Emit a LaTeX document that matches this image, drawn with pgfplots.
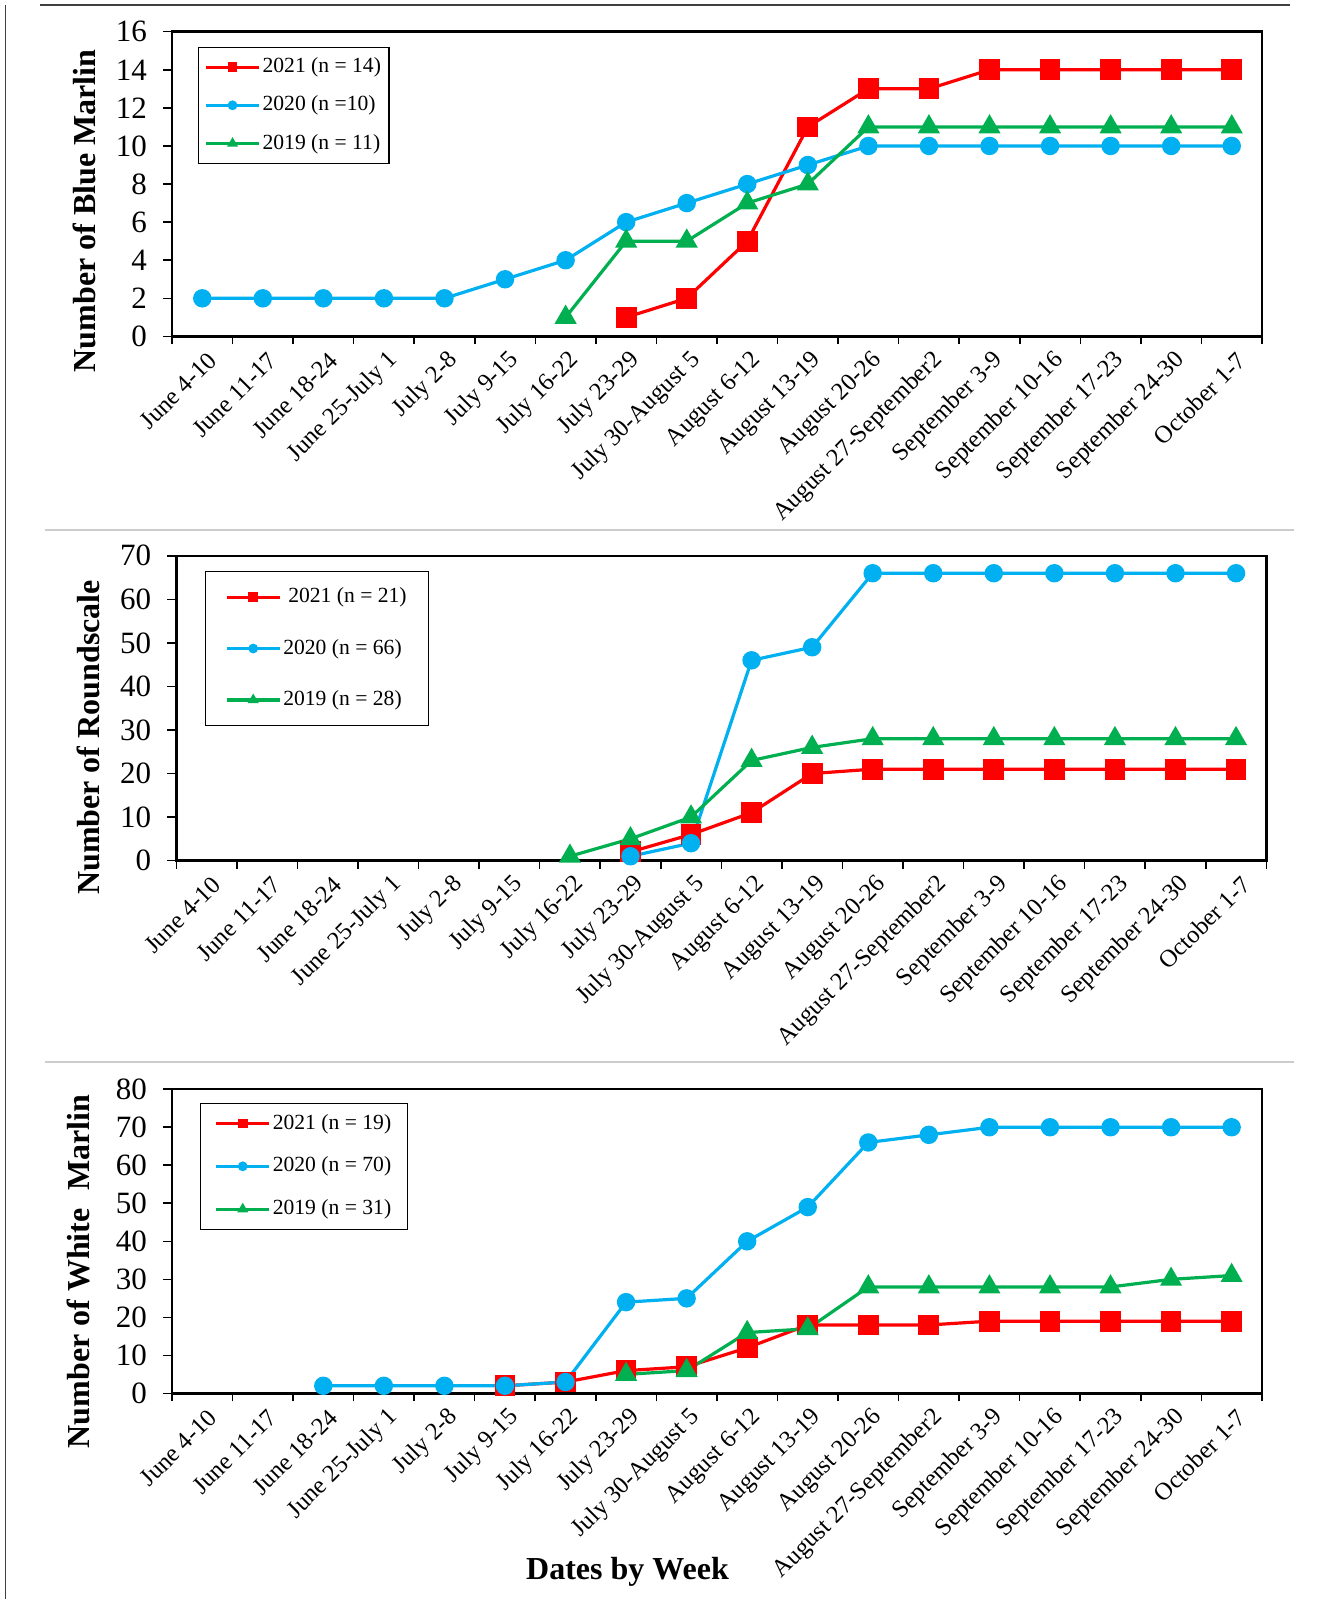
\documentclass[border=0pt]{standalone}
\usepackage{pgfplots}
\pgfplotsset{compat=1.18}
\usepackage{fontspec}
\setmainfont{Liberation Serif}
\definecolor{cred}{HTML}{FF0000}
\definecolor{cblue}{HTML}{00B0F0}
\definecolor{cgreen}{HTML}{00B050}

\pgfplotsset{
  mystyle/.style={
    scale only axis, width=545pt,
    xmin=-0.5, xmax=17.5, ymin=0,
    axis line style={line width=1.2pt, black},
    xtick={0,...,17},
    xticklabels={June 4-10, June 11-17, June 18-24, June 25-July 1, July 2-8, July 9-15, July 16-22, July 23-29, July 30-August 5, August 6-12, August 13-19, August 20-26, August 27-September2, September 3-9, September 10-16, September 17-23, September 24-30, October 1-7},
    minor xtick={-0.5,0.5,...,17.5},
    tick align=outside,
    xtick pos=bottom, ytick pos=left,
    major tick length=4.5pt, minor tick length=4pt,
    tick style={line width=0.8pt, black},
    major x tick style={draw=none},
    xticklabel style={rotate=45, anchor=east, xshift=3pt, yshift=-7.5pt, font=\fontsize{12.3}{15}\selectfont},
    yticklabel style={xshift=-4.5pt, font=\fontsize{15.5}{18}\selectfont},
    /pgf/number format/assume math mode=true,
    ylabel style={font=\fontsize{16}{19}\selectfont\bfseries, anchor=center},
    legend cell align=left,
    legend image code/.code={\draw[mark repeat=2, mark phase=2, #1, mark size=1.6pt] plot coordinates {(0pt,0pt) (13.25pt,0pt) (26.5pt,0pt)};},
    clip=false,
  },
  rser/.style={color=cred, line width=1.6pt, mark=square*, mark size=4.4pt, mark options={solid}},
  bser/.style={color=cblue, line width=1.6pt, mark=*, mark size=3.8pt, mark options={solid}},
  gser/.style={color=cgreen, line width=1.6pt, mark=triangle*, mark size=4.8pt, mark options={solid}},
}

\begin{document}
\begin{tikzpicture}
\useasboundingbox (0,0) rectangle (664pt,-799.5pt);
\draw[black!75, line width=0.6pt] (20pt,-2.5pt) -- (645pt,-2.5pt);
\draw[black!75, line width=0.6pt] (2.7pt,-2.5pt) -- (2.7pt,-799.5pt);
\draw[black!20, line width=0.6pt] (22.5pt,-265pt) -- (647pt,-265pt);
\draw[black!20, line width=0.6pt] (22.5pt,-531pt) -- (647pt,-531pt);

% Panel 1: Blue Marlin
\begin{axis}[mystyle, at={(86pt,-15.85pt)}, anchor=north west, height=152.35pt,
  ymax=16, ytick={0,2,...,16},
  ylabel={Number of Blue Marlin},
  ylabel style={at={(axis description cs:-0.0807,0.412)}},
  legend style={at={(axis description cs:0.0237,0.9514)}, anchor=north west, draw=black, line width=0.6pt,
    inner xsep=3pt, inner ysep=3.75pt, row sep=6.6pt, column sep=0pt,
    nodes={inner sep=1pt, text height=8pt, text depth=2.5pt, font=\fontsize{10.8}{13}\selectfont}},
]
\addplot[rser] coordinates {(7,1)(8,2)(9,5)(10,11)(11,13)(12,13)(13,14)(14,14)(15,14)(16,14)(17,14)};
\addlegendentry{2021 (n = 14)}
\addplot[bser] coordinates {(0,2)(1,2)(2,2)(3,2)(4,2)(5,3)(6,4)(7,6)(8,7)(9,8)(10,9)(11,10)(12,10)(13,10)(14,10)(15,10)(16,10)(17,10)};
\addlegendentry{2020 (n =10)}
\addplot[gser] coordinates {(6,1)(7,5)(8,5)(9,7)(10,8)(11,11)(12,11)(13,11)(14,11)(15,11)(16,11)(17,11)};
\addlegendentry{2019 (n = 11)}
\end{axis}

% Panel 2: Roundscale
\begin{axis}[mystyle, at={(88.15pt,-277.9pt)}, anchor=north west, height=152.4pt,
  ymax=70, ytick={0,10,...,70},
  ylabel={Number of Roundscale},
  ylabel style={at={(axis description cs:-0.081,0.404)}},
  legend style={at={(axis description cs:0.0259,0.9514)}, anchor=north west, draw=black, line width=0.6pt,
    inner xsep=10pt, inner ysep=6.7pt, row sep=13.2pt, column sep=0pt,
    nodes={inner sep=1pt, text height=8pt, text depth=2.5pt, font=\fontsize{10.8}{13}\selectfont}},
]
\addplot[rser] coordinates {(7,2)(8,6)(9,11)(10,20)(11,21)(12,21)(13,21)(14,21)(15,21)(16,21)(17,21)};
\addlegendentry{\hspace{2.5pt}2021 (n = 21)}
\addplot[bser] coordinates {(7,1)(8,4)(9,46)(10,49)(11,66)(12,66)(13,66)(14,66)(15,66)(16,66)(17,66)};
\addlegendentry{2020 (n = 66)}
\addplot[gser] coordinates {(6,1)(7,5)(8,10)(9,23)(10,26)(11,28)(12,28)(13,28)(14,28)(15,28)(16,28)(17,28)};
\addlegendentry{2019 (n = 28)}
\end{axis}

% Panel 3: White Marlin
\begin{axis}[mystyle, at={(85.95pt,-544.6pt)}, anchor=north west, height=152.1pt,
  ymax=80, ytick={0,10,...,80},
  ylabel={Number of White\hspace{0.3em} Marlin},
  ylabel style={at={(axis description cs:-0.0853,0.401)}},
  xlabel={Dates by Week},
  xlabel style={at={(axis description cs:0.418,-0.587)}, anchor=center, font=\fontsize{16}{19}\selectfont\bfseries},
  legend style={at={(axis description cs:0.0258,0.956)}, anchor=north west, draw=black, line width=0.6pt,
    inner xsep=7pt, inner ysep=3.9pt, row sep=8.9pt, column sep=0pt,
    nodes={inner sep=1pt, text height=8pt, text depth=2.5pt, font=\fontsize{10.8}{13}\selectfont}},
]
\addplot[rser] coordinates {(5,2)(6,3)(7,6)(8,7)(9,12)(10,18)(11,18)(12,18)(13,19)(14,19)(15,19)(16,19)(17,19)};
\addlegendentry{2021 (n = 19)}
\addplot[bser] coordinates {(2,2)(3,2)(4,2)(5,2)(6,3)(7,24)(8,25)(9,40)(10,49)(11,66)(12,68)(13,70)(14,70)(15,70)(16,70)(17,70)};
\addlegendentry{2020 (n = 70)}
\addplot[gser] coordinates {(7,5)(8,6)(9,16)(10,17)(11,28)(12,28)(13,28)(14,28)(15,28)(16,30)(17,31)};
\addlegendentry{2019 (n = 31)}
\end{axis}
\end{tikzpicture}
\end{document}
